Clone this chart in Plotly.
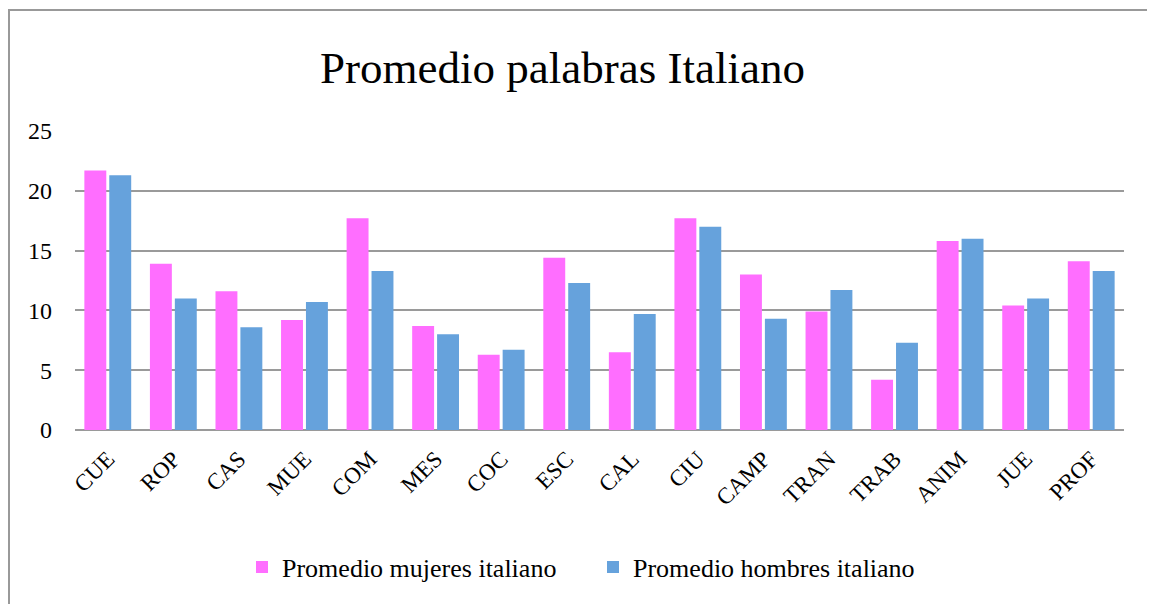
import plotly.graph_objects as go

categories = ["CUE", "ROP", "CAS", "MUE", "COM", "MES", "COC", "ESC", "CAL", "CIU",
              "CAMP", "TRAN", "TRAB", "ANIM", "JUE", "PROF"]
mujeres = [21.7, 13.9, 11.6, 9.2, 17.7, 8.7, 6.3, 14.4, 6.5, 17.7,
           13.0, 9.9, 4.2, 15.8, 10.4, 14.1]
hombres = [21.3, 11.0, 8.6, 10.7, 13.3, 8.0, 6.7, 12.3, 9.7, 17.0,
           9.3, 11.7, 7.3, 16.0, 11.0, 13.3]
y_ticks = [0, 5, 10, 15, 20, 25]

# page body has an 8px margin; work in screen coordinates and subtract it
OFF = 8
W, H = 1155 - OFF, 604 - OFF
L, T = 75 - OFF, 131 - OFF
R = W - (1124 - OFF)
B = H - (430 - OFF)
pw, ph = W - L - R, H - T - B

def px_x(sx):
    return (sx - OFF - L) / pw

def px_y(sy):
    return (H - B - (sy - OFF)) / ph

font_family = "Liberation Serif, Times New Roman, serif"

fig = go.Figure()
fig.add_trace(go.Bar(x=categories, y=mujeres, name="Promedio mujeres italiano",
                     marker=dict(color="#FF6EFF", line=dict(width=0))))
fig.add_trace(go.Bar(x=categories, y=hombres, name="Promedio hombres italiano",
                     marker=dict(color="#66A2DC", line=dict(width=0))))

grid_color = "#9a9a9a"
fig.update_layout(
    width=W, height=H,
    margin=dict(l=L, r=R, t=T, b=B),
    paper_bgcolor="white", plot_bgcolor="white",
    barmode="group", bargap=0.24, bargroupgap=0.12,
    font=dict(family=font_family, color="black"),
    title=dict(text="Promedio palabras Italiano", x=px_x(562.5), xanchor="center",
               y=1 - (67 - OFF) / H, yanchor="middle", xref="paper",
               font=dict(size=45, family=font_family, color="black")),
    xaxis=dict(showgrid=False, showline=False, ticks="", tickangle=-45,
               ticklabelstandoff=10,
               tickfont=dict(size=23, family=font_family, color="black")),
    yaxis=dict(range=[0, 25], tickvals=y_ticks, showgrid=True, gridcolor=grid_color,
               gridwidth=2, zeroline=True, zerolinecolor=grid_color, zerolinewidth=2,
               showline=False, ticks="", ticklabelstandoff=22,
               tickfont=dict(size=24, family=font_family, color="black")),
    legend=dict(orientation="h", x=px_x(593), xanchor="center", y=px_y(567), yanchor="middle",
                font=dict(size=26, family=font_family, color="black"),
                itemwidth=30, entrywidth=306),
    showlegend=True,
    shapes=[
        dict(type="line", xref="paper", yref="paper", x0=px_x(OFF), x1=px_x(1165),
             y0=px_y(10), y1=px_y(10), line=dict(color="#999999", width=2)),
        dict(type="line", xref="paper", yref="paper", x0=px_x(OFF + 1), x1=px_x(OFF + 1),
             y0=px_y(10), y1=px_y(620), line=dict(color="#999999", width=2)),
    ],
)

fig.write_html("out.html")
